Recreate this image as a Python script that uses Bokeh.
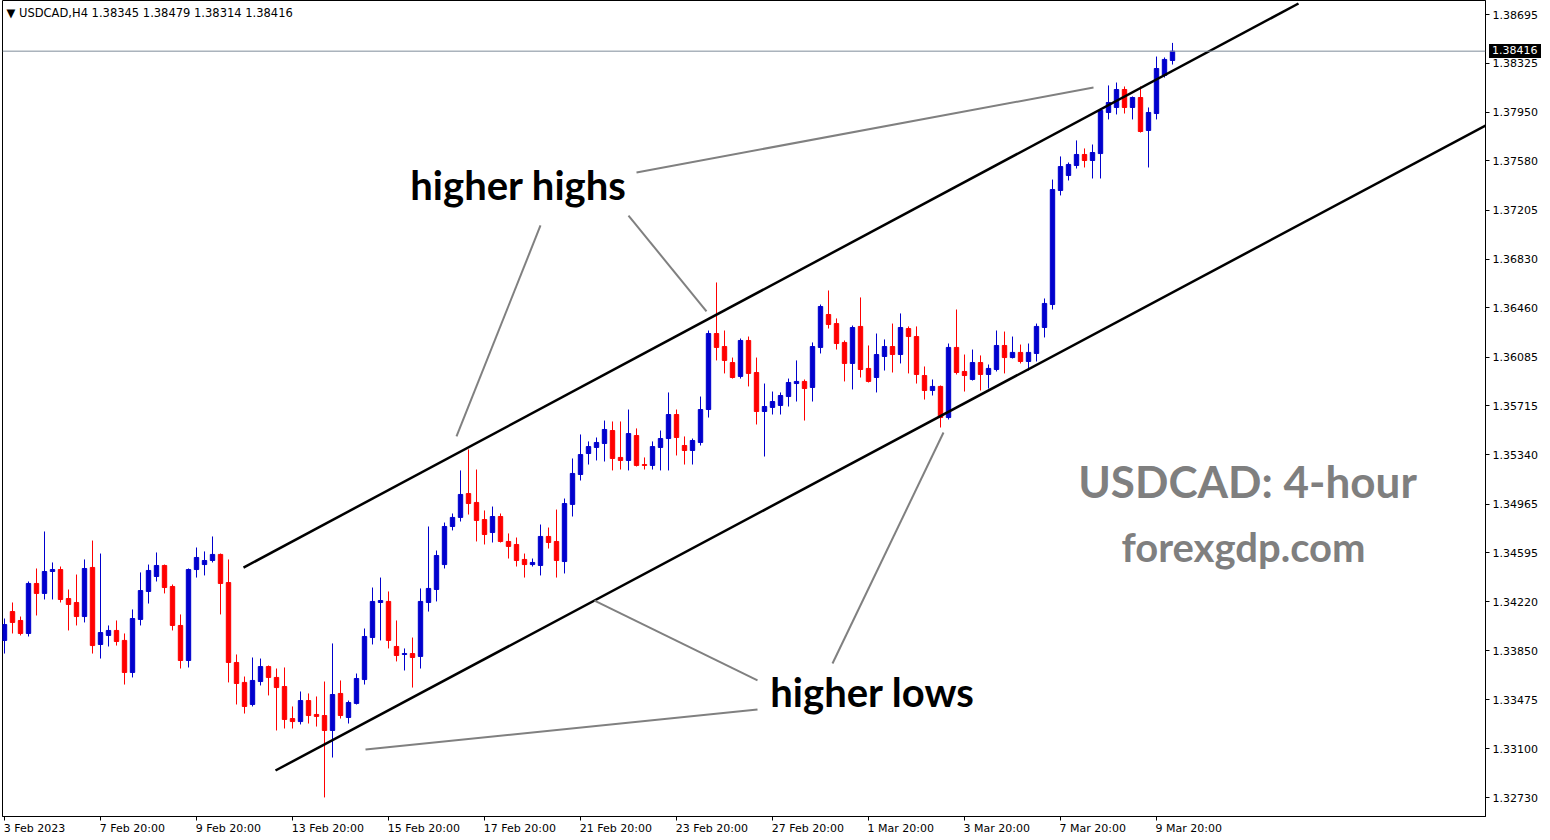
from bokeh.plotting import figure
from bokeh.layouts import column
from bokeh.models import ColumnDataSource, FixedTicker, PrintfTickFormatter, Range1d, Span, Label, Div
from bokeh.core.properties import value
from bokeh.embed import file_html
from bokeh.resources import INLINE

# ---------------- data ----------------
symbol = "USDCAD"
timeframe = "H4"

x_tick_pos = [0, 12, 24, 36, 48, 60, 72, 84, 96, 108, 120, 132, 144]
x_tick_labels = ["3 Feb 2023", "7 Feb 20:00", "9 Feb 20:00", "13 Feb 20:00", "15 Feb 20:00",
                 "17 Feb 20:00", "21 Feb 20:00", "23 Feb 20:00", "27 Feb 20:00", "1 Mar 20:00",
                 "3 Mar 20:00", "7 Mar 20:00", "9 Mar 20:00"]
price_ticks = [1.32730, 1.33100, 1.33475, 1.33850, 1.34220, 1.34595, 1.34965, 1.35340, 1.35715,
               1.36085, 1.36460, 1.36830, 1.37205, 1.37580, 1.37950, 1.38325, 1.38695]

opens = [1.33927, 1.34147, 1.34079, 1.33980, 1.34361, 1.34285, 1.34452, 1.34467, 1.34246, 1.34216,
         1.34109, 1.34483, 1.33896, 1.33965, 1.34003, 1.33927, 1.33683, 1.34087, 1.34300, 1.34414,
         1.34498, 1.34338, 1.34041, 1.33774, 1.34467, 1.34505, 1.34536, 1.34582, 1.34368, 1.33759,
         1.33607, 1.33439, 1.33614, 1.33728, 1.33645, 1.33576, 1.33332, 1.33309, 1.33469, 1.33363,
         1.33355, 1.33241, 1.33523, 1.33340, 1.33447, 1.33629, 1.33949, 1.34216, 1.34224, 1.33881,
         1.33820, 1.33827, 1.33805, 1.34216, 1.34315, 1.34505, 1.34795, 1.34864, 1.35046, 1.34978,
         1.34848, 1.34749, 1.34871, 1.34681, 1.34658, 1.34544, 1.34505, 1.34498, 1.34719, 1.34681,
         1.34528, 1.34963, 1.35191, 1.35351, 1.35397, 1.35427, 1.35526, 1.35321, 1.35298, 1.35488,
         1.35267, 1.35260, 1.35397, 1.35465, 1.35648, 1.35412, 1.35374, 1.35435, 1.35686, 1.36265,
         1.36166, 1.36044, 1.35938, 1.36212, 1.35968, 1.35671, 1.35702, 1.35717, 1.35785, 1.35884,
         1.35900, 1.35854, 1.36159, 1.36410, 1.36341, 1.36197, 1.36037, 1.36319, 1.35999, 1.35930,
         1.36090, 1.36166, 1.36105, 1.36303, 1.36242, 1.35945, 1.35831, 1.35862, 1.35625, 1.36159,
         1.35976, 1.35915, 1.36044, 1.35953, 1.35991, 1.36174, 1.36082, 1.36121, 1.36052, 1.36113,
         1.36311, 1.36486, 1.37355, 1.37469, 1.37545, 1.37629, 1.37583, 1.37636, 1.37949, 1.37987,
         1.38124, 1.37987, 1.38063, 1.37812, 1.37941, 1.38231, 1.38345]

highs = [1.34094, 1.34216, 1.34109, 1.34376, 1.34475, 1.34757, 1.34521, 1.34490, 1.34315, 1.34429,
         1.34544, 1.34688, 1.34589, 1.34041, 1.34079, 1.33980, 1.34163, 1.34445, 1.34505, 1.34597,
         1.34505, 1.34353, 1.34125, 1.34475, 1.34635, 1.34605, 1.34719, 1.34589, 1.34544, 1.33820,
         1.33652, 1.33797, 1.33789, 1.33736, 1.33713, 1.33721, 1.33424, 1.33538, 1.33523, 1.33500,
         1.33614, 1.33904, 1.33622, 1.33469, 1.33675, 1.34018, 1.34330, 1.34406, 1.34300, 1.34079,
         1.33866, 1.33949, 1.34323, 1.34795, 1.34612, 1.34825, 1.34894, 1.35222, 1.35382, 1.35229,
         1.34917, 1.34947, 1.34894, 1.34742, 1.34711, 1.34589, 1.34551, 1.34810, 1.34787, 1.34924,
         1.35008, 1.35313, 1.35496, 1.35443, 1.35473, 1.35602, 1.35595, 1.35595, 1.35686, 1.35542,
         1.35321, 1.35443, 1.35526, 1.35816, 1.35686, 1.35481, 1.35465, 1.35785, 1.36288, 1.36654,
         1.36288, 1.36082, 1.36227, 1.36242, 1.36082, 1.35884, 1.35823, 1.35816, 1.35922, 1.36060,
         1.35915, 1.36197, 1.36486, 1.36593, 1.36380, 1.36212, 1.36326, 1.36540, 1.36174, 1.36265,
         1.36220, 1.36341, 1.36418, 1.36319, 1.36319, 1.36014, 1.35915, 1.35869, 1.36189, 1.36448,
         1.36105, 1.36143, 1.36098, 1.36029, 1.36288, 1.36280, 1.36242, 1.36181, 1.36189, 1.36341,
         1.36532, 1.37438, 1.37614, 1.37568, 1.37736, 1.37675, 1.37705, 1.37979, 1.38155, 1.38177,
         1.38147, 1.38071, 1.38147, 1.37987, 1.38375, 1.38368, 1.38479]

lows = [1.33827, 1.33980, 1.33965, 1.33957, 1.34117, 1.34239, 1.34239, 1.34216, 1.34003, 1.34041,
        1.34064, 1.33827, 1.33789, 1.33881, 1.33888, 1.33591, 1.33645, 1.34041, 1.34208, 1.34376,
        1.34285, 1.34003, 1.33713, 1.33721, 1.34406, 1.34422, 1.34521, 1.34125, 1.33607, 1.33439,
        1.33370, 1.33424, 1.33584, 1.33508, 1.33241, 1.33256, 1.33256, 1.33287, 1.33294, 1.33271,
        1.32731, 1.33035, 1.33332, 1.33294, 1.33439, 1.33591, 1.33896, 1.33927, 1.33866, 1.33767,
        1.33698, 1.33568, 1.33713, 1.34147, 1.34224, 1.34475, 1.34765, 1.34833, 1.34886, 1.34681,
        1.34658, 1.34673, 1.34673, 1.34551, 1.34490, 1.34406, 1.34490, 1.34422, 1.34627, 1.34406,
        1.34437, 1.34871, 1.35145, 1.35267, 1.35298, 1.35290, 1.35222, 1.35229, 1.35222, 1.35252,
        1.35229, 1.35229, 1.35222, 1.35222, 1.35336, 1.35267, 1.35267, 1.35412, 1.35625, 1.36060,
        1.35961, 1.35922, 1.35922, 1.35862, 1.35572, 1.35328, 1.35648, 1.35648, 1.35709, 1.35747,
        1.35602, 1.35747, 1.36113, 1.36303, 1.36143, 1.35900, 1.35839, 1.35930, 1.35892, 1.35816,
        1.35983, 1.35968, 1.36037, 1.35961, 1.35884, 1.35762, 1.35793, 1.35549, 1.35610, 1.35953,
        1.35823, 1.35907, 1.35831, 1.35846, 1.35976, 1.35961, 1.36075, 1.36037, 1.35983, 1.36052,
        1.36235, 1.36448, 1.37317, 1.37431, 1.37522, 1.37530, 1.37446, 1.37446, 1.37896, 1.37934,
        1.37941, 1.37896, 1.37796, 1.37530, 1.37896, 1.38215, 1.38314]

closes = [1.34048, 1.34064, 1.33980, 1.34361, 1.34285, 1.34452, 1.34467, 1.34239, 1.34201, 1.34109,
          1.34475, 1.33888, 1.33987, 1.34003, 1.33919, 1.33683, 1.34094, 1.34307, 1.34460, 1.34498,
          1.34330, 1.34041, 1.33774, 1.34467, 1.34559, 1.34536, 1.34582, 1.34361, 1.33759, 1.33599,
          1.33424, 1.33622, 1.33728, 1.33645, 1.33568, 1.33325, 1.33309, 1.33469, 1.33355, 1.33348,
          1.33241, 1.33515, 1.33355, 1.33454, 1.33637, 1.33957, 1.34224, 1.34231, 1.33927, 1.33812,
          1.33827, 1.33797, 1.34224, 1.34323, 1.34574, 1.34795, 1.34864, 1.35039, 1.34970, 1.34841,
          1.34734, 1.34871, 1.34681, 1.34643, 1.34536, 1.34505, 1.34521, 1.34719, 1.34673, 1.34536,
          1.34970, 1.35199, 1.35343, 1.35404, 1.35435, 1.35534, 1.35313, 1.35298, 1.35503, 1.35260,
          1.35260, 1.35404, 1.35465, 1.35648, 1.35473, 1.35374, 1.35450, 1.35686, 1.36265, 1.36159,
          1.36060, 1.35930, 1.36212, 1.35961, 1.35671, 1.35709, 1.35747, 1.35793, 1.35892, 1.35900,
          1.35846, 1.36166, 1.36471, 1.36334, 1.36189, 1.36037, 1.36311, 1.35991, 1.35900, 1.36105,
          1.36166, 1.36105, 1.36311, 1.36242, 1.35953, 1.35831, 1.35862, 1.35625, 1.36159, 1.35968,
          1.35945, 1.36044, 1.35953, 1.35999, 1.36174, 1.36082, 1.36121, 1.36052, 1.36121, 1.36319,
          1.36494, 1.37362, 1.37537, 1.37553, 1.37629, 1.37583, 1.37644, 1.37964, 1.38025, 1.38124,
          1.37987, 1.38063, 1.37804, 1.37949, 1.38284, 1.38353, 1.38416]

# drawn objects on the chart (bar index, price)
channel_upper_x = [29.875, 161.75]
channel_upper_y = [1.34482, 1.38779]
channel_lower_x = [33.875, 185.125]
channel_lower_y = [1.32936, 1.37849]
pointer_x0 = [79.0, 67.0, 78.0, 73.75, 45.125, 117.375]
pointer_y0 = [1.37492, 1.37088, 1.37164, 1.34231, 1.33096, 1.35511]
pointer_x1 = [136.125, 56.5, 87.75, 94.125, 94.125, 103.5]
pointer_y1 = [1.38139, 1.35481, 1.36433, 1.33622, 1.33401, 1.33751]
note_text = ["higher highs", "higher lows"]
note_x = [64.25, 108.5]
note_y = [1.37395, 1.33533]
brand_text = ["USDCAD: 4-hour", "forexgdp.com"]
brand_x = [155.375, 154.875]
brand_y = [1.35145, 1.34635]
brand_size = ["44px", "40px"]

# ---------------- figure ----------------
X_START, X_END = -0.25, 185.125
Y_START, Y_END = 1.325857, 1.38802
FW, FH = 1483, 816
BORDER_L = 2

p = figure(frame_width=FW, frame_height=FH,
           x_range=Range1d(X_START, X_END), y_range=Range1d(Y_START, Y_END),
           y_axis_location="right", output_backend="svg", toolbar_location=None,
           min_border_left=BORDER_L, min_border_top=0, min_border_right=0, min_border_bottom=0,
           background_fill_color="white", border_fill_color="white")
p.xgrid.visible = False
p.ygrid.visible = False
p.outline_line_color = "black"
p.outline_line_width = 1

ppx = FW / (X_END - X_START)
ppy = FH / (Y_END - Y_START)

BLUE = "#0000CD"
RED = "#FF0000"
idx = list(range(len(opens)))
colors = [BLUE if c >= o else RED for o, c in zip(opens, closes)]
src = ColumnDataSource(dict(
    x=idx, o=opens, h=highs, l=lows, c=closes,
    top=[max(o, c) for o, c in zip(opens, closes)],
    bottom=[min(o, c) for o, c in zip(opens, closes)],
    color=colors))

p.segment(x0="x", y0="l", x1="x", y1="h", source=src, line_color="color", line_width=1)
p.vbar(x="x", width=0.55, top="top", bottom="bottom", source=src,
       fill_color="color", line_color="color", line_width=1)

# current price line
p.add_layout(Span(location=closes[-1], dimension="width", line_color="#7F8C99", line_width=1))

# channel + pointer lines
p.line(channel_upper_x, channel_upper_y, line_color="black", line_width=2.5)
p.line(channel_lower_x, channel_lower_y, line_color="black", line_width=2.5)
p.segment(x0=pointer_x0, y0=pointer_y0, x1=pointer_x1, y1=pointer_y1,
          line_color="#808080", line_width=2)

p.text(x=note_x, y=note_y, text=note_text, text_font=value("Lato"), text_font_style="bold",
       text_font_size="40px", text_color="black", text_align="center", text_baseline="middle")
for t, x, y, s in zip(brand_text, brand_x, brand_y, brand_size):
    p.text(x=[x], y=[y], text=[t], text_font=value("Lato"), text_font_style="bold",
           text_font_size=s, text_color="#7F7F7F", text_align="center", text_baseline="middle")

# ---- bottom axis: labels start at the bar (MT4 style) ----
CW = {d: 7.0 for d in "0123456789"}
CW.update({" ": 3.5, ":": 3.7, "F": 6.3, "e": 6.8, "b": 7.0, "M": 9.5, "a": 6.7, "r": 4.5})
label_centers = [pos + (sum(CW.get(ch, 7.0) for ch in lab) / 2 - 1) / ppx
                 for pos, lab in zip(x_tick_pos, x_tick_labels)]
xa = p.xaxis[0]
xa.ticker = FixedTicker(ticks=label_centers, minor_ticks=x_tick_pos)
xa.major_label_overrides = {c: lab for c, lab in zip(label_centers, x_tick_labels)}
xa.major_tick_line_color = None
xa.major_tick_in = 0
xa.major_tick_out = 4
xa.minor_tick_line_color = "black"
xa.minor_tick_in = 0
xa.minor_tick_out = 4
xa.major_label_standoff = 1
xa.axis_line_color = "black"
xa.major_label_text_font = "DejaVu Sans"
xa.major_label_text_font_size = "11px"
xa.major_label_text_color = "black"

ya = p.yaxis[0]
ya.ticker = FixedTicker(ticks=price_ticks)
ya.formatter = PrintfTickFormatter(format="%.5f")
ya.minor_tick_line_color = None
ya.major_tick_in = 0
ya.major_tick_out = 4
ya.major_label_standoff = 3
ya.axis_line_color = "black"
ya.major_label_text_font = "DejaVu Sans"
ya.major_label_text_font_size = "11px"
ya.major_label_text_color = "black"

# header
header = "\u25BC {},{}  {:.5f} {:.5f} {:.5f} {:.5f}".format(
    symbol, timeframe, opens[-1], highs[-1], lows[-1], closes[-1])
p.add_layout(Label(x=X_START + 4 / ppx, y=Y_END - 12 / ppy, text=header,
                   text_font="DejaVu Sans", text_font_size="11.5px", text_color="black",
                   text_align="left", text_baseline="middle"))

# current price tag on the price scale
tag_top = (Y_END - closes[-1]) * ppy - 7
tag_left = BORDER_L + FW + 4
tag = Div(text="{:.5f}".format(closes[-1]),
          styles={"position": "absolute", "left": "{:.0f}px".format(tag_left),
                  "top": "{:.0f}px".format(tag_top), "background-color": "black",
                  "color": "white", "font-family": "DejaVu Sans", "font-size": "11px",
                  "line-height": "14px", "padding": "0px 3px", "z-index": "10",
                  "margin": "0px"})

layout = column(p, tag)
open("out.html", "w").write(file_html(layout, INLINE))
